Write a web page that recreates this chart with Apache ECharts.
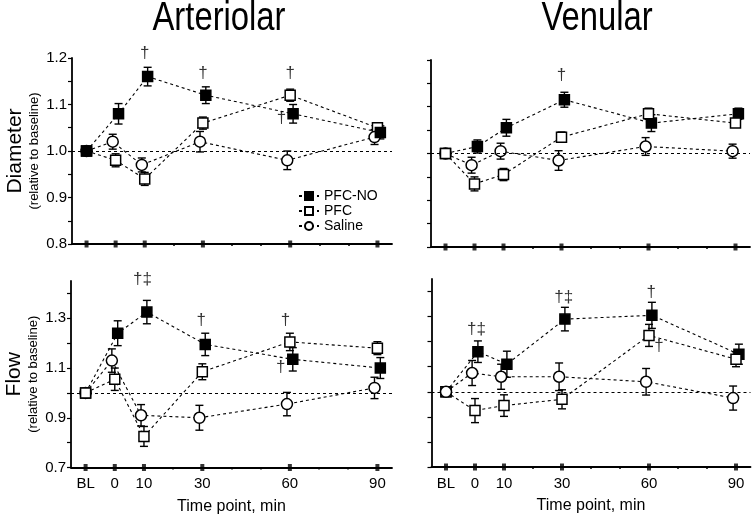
<!DOCTYPE html>
<html><head><meta charset="utf-8">
<script src="https://cdn.jsdelivr.net/npm/echarts@6/dist/echarts.min.js"></script>
<style>html,body{margin:0;padding:0;background:#fff}#c{width:756px;height:522px}</style>
</head><body><div id="c"></div>
<script>
// ---- data ----
const times = [-10, 0, 10, 30, 60, 90];           // BL plotted at -10 min
const timeLabels = ['BL', '0', '10', '30', '60', '90'];
const minorTimes = [20, 40, 50, 70, 80];
const seriesNames = ['PFC-NO', 'PFC', 'Saline'];

const diamTicks = [0.8, 0.85, 0.9, 0.95, 1.0, 1.05, 1.1, 1.15, 1.2];
const diamLabels = [0.8, 0.9, 1.0, 1.1, 1.2];
const flowTicks = [0.7, 0.8, 0.9, 1.0, 1.1, 1.2, 1.3, 1.4];
const flowLabels = [0.7, 0.9, 1.1, 1.3];

// Arteriolar diameter
const artDiamPFCNO = [1.00, 1.08, 1.16, 1.12, 1.08, 1.04];
const artDiamPFCNOErr = [0, 0.022, 0.020, 0.018, 0.020, 0.014];
const artDiamPFC = [1.00, 0.98, 0.94, 1.06, 1.12, 1.05];
const artDiamPFCErr = [0, 0.014, 0.014, 0.013, 0.013, 0.010];
const artDiamSaline = [1.00, 1.02, 0.97, 1.02, 0.98, 1.03];
const artDiamSalineErr = [0, 0.016, 0.015, 0.022, 0.020, 0.016];
// Venular diameter
const venDiamPFCNO = [1.00, 1.015, 1.055, 1.115, 1.065, 1.085];
const venDiamPFCNOErr = [0, 0.014, 0.018, 0.016, 0.018, 0.012];
const venDiamPFC = [1.00, 0.935, 0.955, 1.035, 1.085, 1.065];
const venDiamPFCErr = [0, 0.015, 0.013, 0.011, 0.012, 0.008];
const venDiamSaline = [1.00, 0.975, 1.005, 0.985, 1.015, 1.005];
const venDiamSalineErr = [0, 0.017, 0.017, 0.021, 0.019, 0.015];
// Arteriolar flow
const artFlowPFCNO = [1.00, 1.24, 1.325, 1.195, 1.135, 1.10];
const artFlowPFCNOErr = [0, 0.050, 0.047, 0.045, 0.047, 0.042];
const artFlowPFC = [1.00, 1.055, 0.825, 1.085, 1.205, 1.18];
const artFlowPFCErr = [0, 0.045, 0.040, 0.032, 0.035, 0.026];
const artFlowSaline = [1.00, 1.13, 0.91, 0.90, 0.955, 1.02];
const artFlowSalineErr = [0, 0.047, 0.043, 0.050, 0.047, 0.043];
// Venular flow
const venFlowPFCNO = [1.00, 1.16, 1.11, 1.29, 1.305, 1.15];
const venFlowPFCNOErr = [0, 0.043, 0.052, 0.047, 0.052, 0.040];
const venFlowPFC = [1.00, 0.925, 0.945, 0.97, 1.225, 1.13];
const venFlowPFCErr = [0, 0.048, 0.043, 0.038, 0.044, 0.030];
const venFlowSaline = [1.00, 1.075, 1.06, 1.06, 1.04, 0.975];
const venFlowSalineErr = [0, 0.050, 0.050, 0.055, 0.053, 0.048];

// significance marks [time, value, text]
const artDiamMarks = [[10, 1.21, '†'], [30, 1.168, '†'], [60, 1.168, '†'], [57, 1.07, '†']];
const venDiamMarks = [[30, 1.168, '†']];
const artFlowMarks = [[9.5, 1.455, '†‡'], [29.6, 1.29, '†'], [58.5, 1.293, '†'], [56.9, 1.103, '†']];
const venFlowMarks = [[0.5, 1.25, '†‡'], [30.6, 1.377, '†‡'], [60.8, 1.397, '†'], [63.4, 1.18, '†']];

// ---- styling / layout ----
const FONT = "'Liberation Sans', Arial, sans-serif";
const dodge = [1, 0, -1];
const symbols = ['rect', 'rect', 'circle'];
const symSizes = [10, 10, 11];
const fills = ['#000', '#fff', '#fff'];

const panels = [
  { grid: { left: 72, top: 58, width: 320, height: 186 }, ymin: 0.8, ymax: 1.2, ticks: diamTicks, labels: diamLabels, showYLabels: true, showXLabels: false, name: 'Diameter',
    vals: [artDiamPFCNO, artDiamPFC, artDiamSaline], errs: [artDiamPFCNOErr, artDiamPFCErr, artDiamSalineErr], marks: artDiamMarks, front: 0 },
  { grid: { left: 431, top: 60, width: 319, height: 187 }, ymin: 0.8, ymax: 1.2, ticks: diamTicks, labels: [], showYLabels: false, showXLabels: false, name: '',
    vals: [venDiamPFCNO, venDiamPFC, venDiamSaline], errs: [venDiamPFCNOErr, venDiamPFCErr, venDiamSalineErr], marks: venDiamMarks, front: 1 },
  { grid: { left: 71, top: 281, width: 321, height: 186.5 }, ymin: 0.7, ymax: 1.45, ticks: flowTicks, labels: flowLabels, showYLabels: true, showXLabels: true, name: 'Flow',
    vals: [artFlowPFCNO, artFlowPFC, artFlowSaline], errs: [artFlowPFCNOErr, artFlowPFCErr, artFlowSalineErr], marks: artFlowMarks, front: 1 },
  { grid: { left: 431.5, top: 279, width: 319, height: 188 }, ymin: 0.7, ymax: 1.45, ticks: flowTicks, labels: [], showYLabels: false, showXLabels: true, name: '',
    vals: [venFlowPFCNO, venFlowPFC, venFlowSaline], errs: [venFlowPFCNOErr, venFlowPFCErr, venFlowSalineErr], marks: venFlowMarks, front: 2 }
];

const grids = [], xAxes = [], yAxes = [], series = [];

panels.forEach((p, i) => {
  grids.push(Object.assign({ containLabel: false }, p.grid));
  xAxes.push({
    type: 'value', gridIndex: i, min: -15, max: 95,
    splitLine: { show: false },
    axisLine: { onZero: false, lineStyle: { color: '#000', width: 1.8 } },
    axisTick: { show: true, customValues: minorTimes, length: 2, lineStyle: { color: '#000', width: 1.5 } },
    axisLabel: {
      show: p.showXLabels, customValues: times, margin: 9, color: '#000', fontSize: 15, fontFamily: FONT,
      formatter: v => { const k = times.indexOf(Math.round(v)); return k >= 0 ? timeLabels[k] : ''; }
    },
    name: p.showXLabels ? 'Time point, min' : '', nameLocation: 'middle', nameGap: 31,
    nameTextStyle: { color: '#000', fontSize: 16, fontFamily: FONT }
  });
  yAxes.push({
    type: 'value', gridIndex: i, min: p.ymin, max: p.ymax,
    splitLine: { show: false },
    axisLine: { show: true, onZero: false, lineStyle: { color: '#000', width: 1.8 } },
    axisTick: { show: true, customValues: p.ticks, length: 4, lineStyle: { color: '#000', width: 1.2 } },
    axisLabel: { show: p.showYLabels, customValues: p.labels, margin: 5, color: '#000', fontSize: 15, fontFamily: FONT,
      formatter: v => v.toFixed(1) },
    name: p.name ? '{a|' + p.name + '}\n{b|(relative to baseline)}' : '',
    nameLocation: 'middle', nameRotate: 90, nameGap: 30,
    nameTextStyle: { color: '#000', fontFamily: FONT,
      rich: { a: { fontSize: 21, lineHeight: 24, color: '#000', fontFamily: FONT },
              b: { fontSize: 13, lineHeight: 15, color: '#000', fontFamily: FONT } } }
  });

  for (let s = 0; s < 3; s++) {
    const vals = p.vals[s], errs = p.errs[s];
    const z = (s === p.front) ? 6 : 4;
    const pts = times.map((t, k) => [k === 0 ? t : t + dodge[s], vals[k]]);
    const line = {
      type: 'line', name: seriesNames[s], xAxisIndex: i, yAxisIndex: i,
      data: pts, symbol: symbols[s], symbolSize: symSizes[s], showAllSymbol: true,
      itemStyle: { color: fills[s], borderColor: '#000', borderWidth: 1.5 },
      lineStyle: { color: '#000', width: 1.1, type: [3, 3] },
      z: z, animation: false
    };
    if (s === 0) {
      line.markLine = { silent: true, symbol: ['none', 'none'], label: { show: false },
        lineStyle: { color: '#000', width: 1.1, type: [3, 3] }, data: [{ yAxis: 1.0 }] };
    }
    series.push(line);
    series.push({
      type: 'custom', name: seriesNames[s] + ' SEM', xAxisIndex: i, yAxisIndex: i, z: 2,
      data: times.map((t, k) => [k === 0 ? t : t + dodge[s], vals[k], errs[k]]).filter(d => d[2] > 0),
      encode: { x: 0, y: 1 },
      renderItem: (params, api) => {
        const x = api.value(0), v = api.value(1), e = api.value(2);
        const a = api.coord([x, v + e]), b = api.coord([x, v - e]);
        const st = { stroke: '#000', lineWidth: 1.4 };
        return { type: 'group', children: [
          { type: 'line', shape: { x1: a[0], y1: a[1], x2: b[0], y2: b[1] }, style: st },
          { type: 'line', shape: { x1: a[0] - 4, y1: a[1], x2: a[0] + 4, y2: a[1] }, style: st },
          { type: 'line', shape: { x1: b[0] - 4, y1: b[1], x2: b[0] + 4, y2: b[1] }, style: st }
        ] };
      }
    });
  }
  // major x ticks drawn as small squares on the axis
  series.push({
    type: 'scatter', name: 'ticks', xAxisIndex: i, yAxisIndex: i, silent: true, clip: false, z: 8,
    data: times.map(t => [t, p.ymin]), symbol: 'rect', symbolSize: [4, 7],
    itemStyle: { color: '#000' }
  });
  // significance marks
  series.push({
    type: 'scatter', name: 'marks', xAxisIndex: i, yAxisIndex: i, silent: true, clip: false, z: 9,
    data: p.marks.map(m => ({ value: [m[0], m[1]], label: { formatter: m[2] } })),
    symbolSize: 1, itemStyle: { color: 'rgba(0,0,0,0)' },
    label: { show: true, position: 'inside', color: '#000', fontSize: 17, fontFamily: FONT }
  });
});

const chart = echarts.init(document.getElementById('c'), null, { renderer: 'canvas' });
chart.setOption({
  backgroundColor: '#fff',
  animation: false,
  grid: grids, xAxis: xAxes, yAxis: yAxes, series: series,
  legend: {
    data: seriesNames, orient: 'vertical', left: 293, top: 184,
    itemWidth: 20, itemHeight: 10, itemGap: 1, selectedMode: false,
    textStyle: { color: '#000', fontSize: 14, fontFamily: FONT, padding: [0, 0, 0, 0] }
  },
  graphic: [
    { type: 'text', x: 219, y: 19, scaleX: 0.82, style: { text: 'Arteriolar', font: '40px ' + FONT, fill: '#000', align: 'center', verticalAlign: 'middle' } },
    { type: 'text', x: 597, y: 19, scaleX: 0.82, style: { text: 'Venular', font: '40px ' + FONT, fill: '#000', align: 'center', verticalAlign: 'middle' } }
  ]
});
</script>
</body></html>
